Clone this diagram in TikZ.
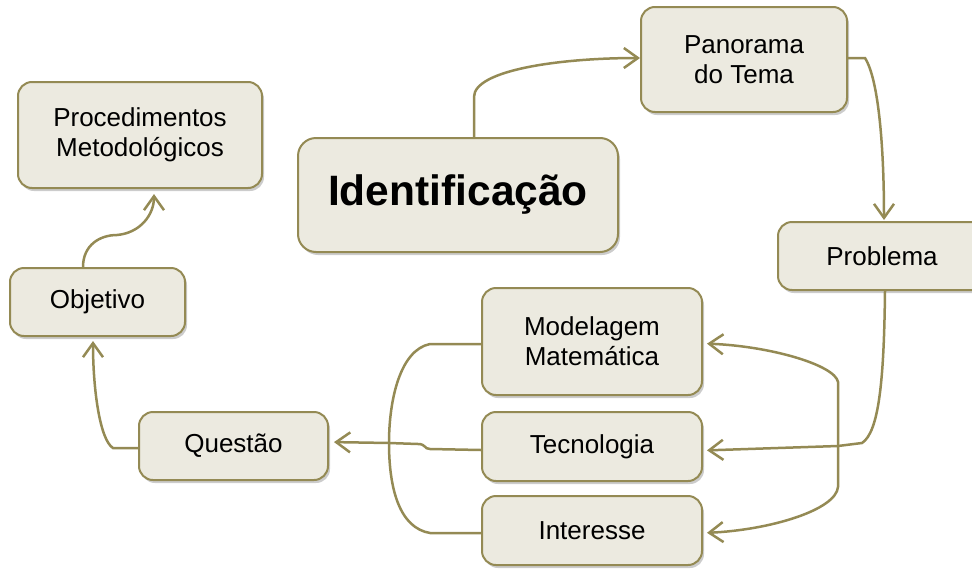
\documentclass[tikz,border=0pt]{standalone}
\usepackage{fontspec}
\setmainfont{Liberation Sans}
\usetikzlibrary{arrows.meta,shadows}
\definecolor{boxfill}{HTML}{ECEAE0}
\definecolor{oliveline}{HTML}{948A54}
\tikzset{
  box/.style={draw=oliveline, line width=2pt, fill=boxfill, rounded corners=14pt,
    align=center, inner sep=0pt, font=\fontsize{26}{30}\selectfont,
    drop shadow={shadow xshift=2pt, shadow yshift=-3pt, fill=black, opacity=0.2}},
  conn/.style={draw=oliveline, line width=2.5pt},
  arr/.style={conn, -{Straight Barb[length=14pt,width=20pt]}},
}
\begin{document}
\begin{tikzpicture}[x=1pt,y=-1pt]
\useasboundingbox (0,0) rectangle (972,568);

\node[box, minimum width=244pt, minimum height=106pt] (proc) at (140,135) {Procedimentos\\Metodológicos};
\node[box, minimum width=206pt, minimum height=105pt] (pan) at (744,59.5) {Panorama\\do Tema};
\node[box, minimum width=320pt, minimum height=114pt, rounded corners=18pt,
      font=\fontsize{42.5}{46}\selectfont\bfseries] (ident) at (458,195) {Identificação};
\node[box, minimum width=208pt, minimum height=68pt] (prob) at (882,256) {Problema};
\node[box, minimum width=175pt, minimum height=68pt] (obj) at (97.5,302) {Objetivo};
\node[box, minimum width=220pt, minimum height=107pt] (model) at (592,341.5) {Modelagem\\Matemática};
\node[box, minimum width=220pt, minimum height=69pt] (tec) at (592,446.5) {Tecnologia};
\node[box, minimum width=220pt, minimum height=69pt] (int) at (592,530.5) {Interesse};
\node[box, minimum width=189pt, minimum height=68pt] (quest) at (233.5,446) {Questão};

% Identificação -> Panorama
\draw[arr] ([xshift=16pt]ident.north) -- (474,97)
  .. controls (474,70) and (560,58) .. ([yshift=1.5pt]pan.west);
% Panorama -> Problema
\draw[arr, shorten >=1pt] ([yshift=1.5pt]pan.east) -- (865,58)
  .. controls (879,80) and (884,150) .. ([xshift=2pt]prob.north);
% Problema -> junction
\draw[conn] ([xshift=3pt]prob.south) .. controls (884,380) and (879,432) .. (862,443)
  -- (838,446) coordinate (j1);
\draw[arr, shorten >=4pt] (j1) -- ([yshift=-4pt]tec.east);
\draw[arr, shorten >=4pt] (j1) -- (838,382)
  .. controls (835,365) and (770,346) .. ([yshift=-2pt]model.east);
\draw[arr, shorten >=4pt] (j1) -- (838,487)
  .. controls (836,510) and (770,530) .. ([yshift=-2.5pt]int.east);

% Left merge -> Questão
\coordinate (j2) at (389,443);
\draw[conn] ([yshift=-2.5pt]model.west) -- (430,344)
  .. controls (400,350) and (389,400) .. (j2);
\draw[conn] ([yshift=-2.5pt]int.west) -- (430,533)
  .. controls (400,528) and (389,490) .. (j2);
\draw[conn] ([yshift=-3.5pt]tec.west) -- (430,449) .. controls (424,449) and (426,444) .. (418,444) -- (j2);
\draw[arr, shorten >=5pt] (j2) -- ([yshift=4pt]quest.east);

% Questão -> Objetivo
\draw[arr, shorten >=4pt] ([yshift=-2pt]quest.west) -- (113,448)
  .. controls (100,440) and (93,390) .. ([xshift=-4.5pt]obj.south);
% Objetivo -> Procedimentos
\draw[arr, shorten >=5pt] ([xshift=-14.5pt]obj.north) .. controls (83,245) and (100,235) .. (117,235)
  .. controls (140,233) and (154,215) .. ([xshift=14pt]proc.south);
\end{tikzpicture}
\end{document}
